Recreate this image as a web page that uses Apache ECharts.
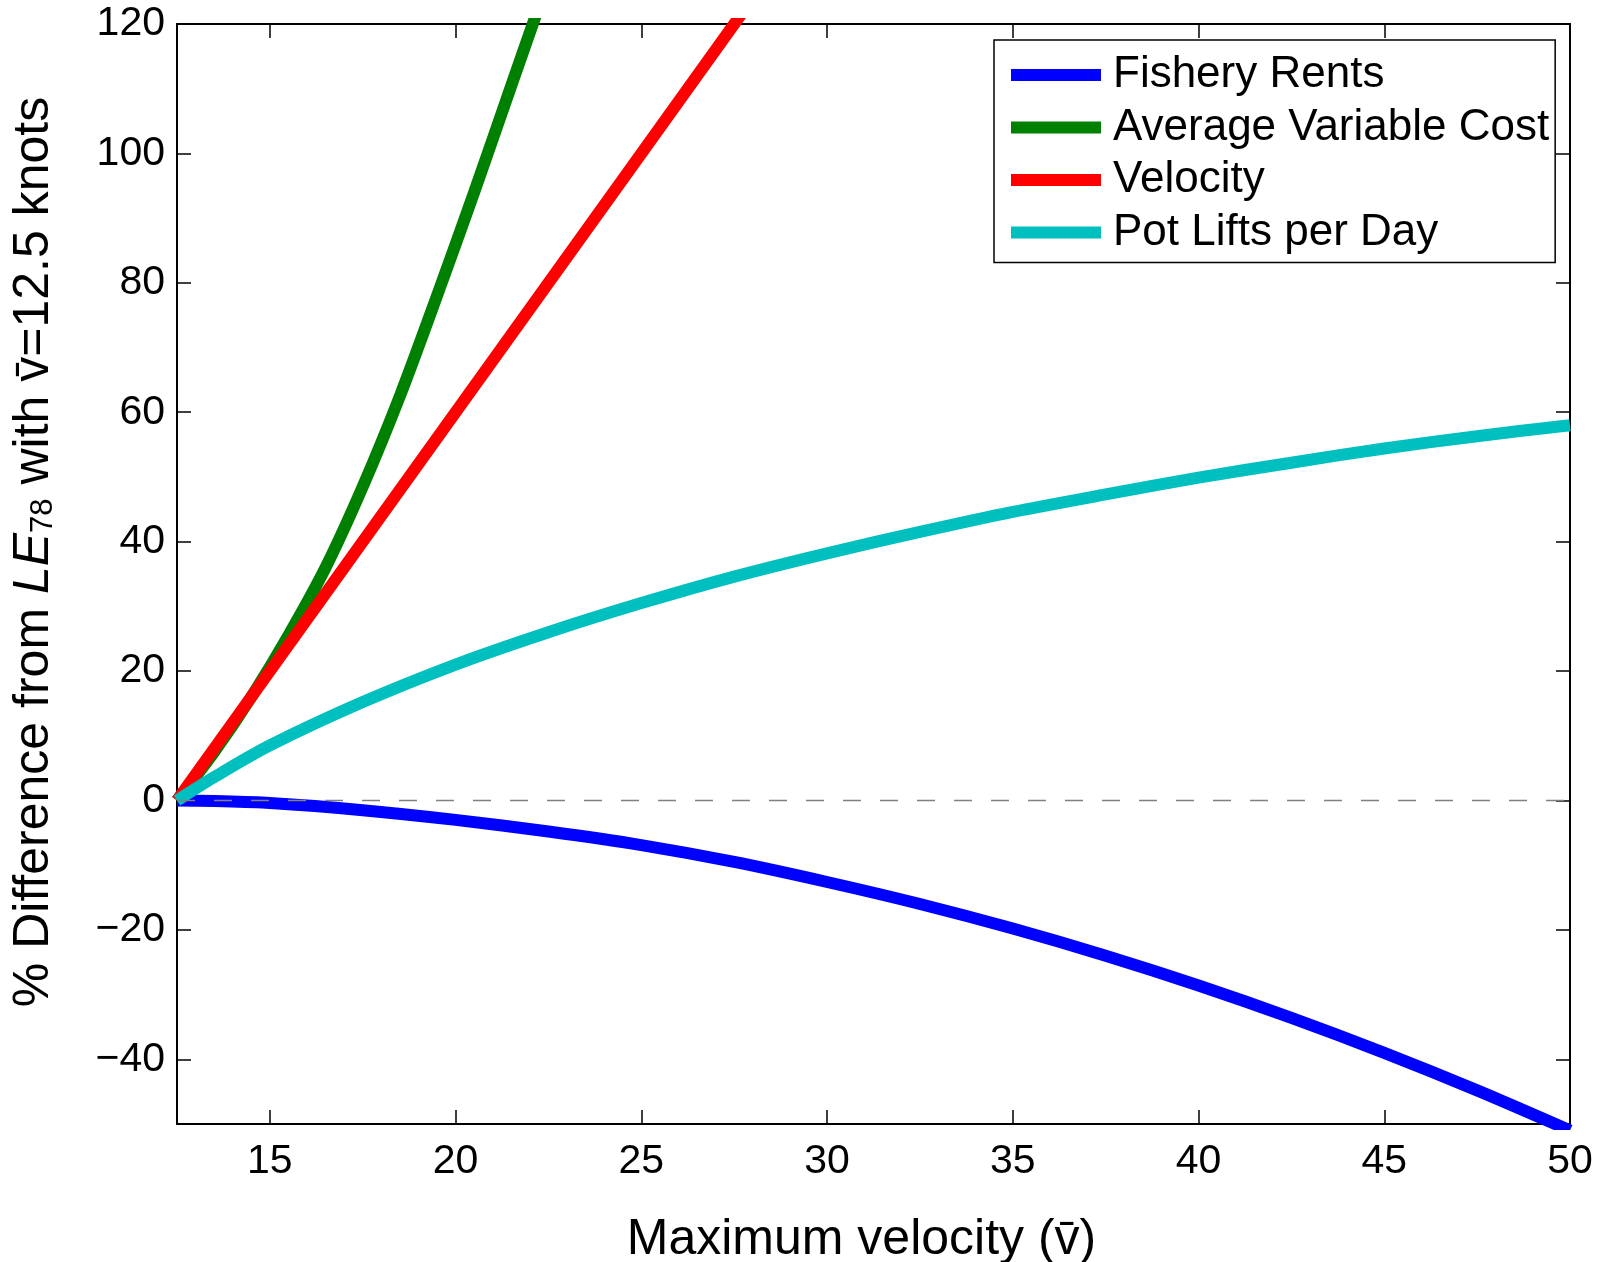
<!DOCTYPE html>
<html>
<head>
<meta charset="utf-8">
<title>% Difference from LE78 vs maximum velocity</title>
<script src="https://cdn.jsdelivr.net/npm/echarts@6/dist/echarts.min.js"></script>
<style>
  html, body { margin: 0; padding: 0; background: #fff; }
  #chart { width: 1602px; height: 1262px; }
</style>
</head>
<body>
<div id="chart"></div>
<script>
// Maximum velocity (knots) and % difference from the 12.5-knot baseline
const rentsX = [12.5, 13.5, 15, 17.5, 20, 22.5, 25, 27.5, 30, 32.5, 35, 37.5, 40, 42.5, 45, 47.5, 50];
const fisheryRents = [0, -0.1, -0.4, -1.5, -3.0, -4.8, -6.9, -9.5, -12.6, -16.0, -19.8, -24.0, -28.6, -33.6, -39.0, -44.8, -51.0];

const avcX = [12.5, 13.5, 14.5, 15.5, 16.5, 17.5, 18.5, 19.5, 20.5, 21.5, 22.2];
const avgVariableCost = [0, 7.5, 16, 25.5, 36, 48.5, 62.5, 78, 94, 110.5, 122];

const velocityX = [12.5, 15, 20, 25, 28];
const velocity = [0, 20, 60, 100, 124];

const liftsX = [12.5, 13.5, 15, 17.5, 20, 22.5, 25, 27.5, 30, 32.5, 35, 37.5, 40, 42.5, 45, 47.5, 50];
const potLifts = [0, 3.6, 8.5, 15.2, 21, 26, 30.5, 34.6, 38.2, 41.5, 44.6, 47.3, 49.9, 52.2, 54.4, 56.3, 58.0];

const xTicks = [15, 20, 25, 30, 35, 40, 45, 50];
const yTicks = [-40, -20, 0, 20, 40, 60, 80, 100, 120];
const xRange = [12.5, 50];
const yRange = [-50, 120];

const FONT = '"Liberation Sans", Helvetica, Arial, sans-serif';

function pairs(xs, ys) { return xs.map((x, i) => [x, ys[i]]); }

const tickStyle = { show: true, inside: true, length: 14, lineStyle: { color: '#000', width: 1.5 } };

function xAxisDef(pos, labels) {
  return {
    type: 'value', position: pos, min: xRange[0], max: xRange[1],
    axisLine: { show: true, onZero: false, lineStyle: { color: '#000', width: 2 } },
    axisTick: Object.assign({}, tickStyle, { customValues: xTicks }),
    axisLabel: labels ? { show: true, customValues: xTicks, fontSize: 41, fontFamily: FONT, color: '#000', margin: 17 } : { show: false },
    splitLine: { show: false }
  };
}
function yAxisDef(pos, labels) {
  return {
    type: 'value', position: pos, min: yRange[0], max: yRange[1],
    axisLine: { show: true, onZero: false, lineStyle: { color: '#000', width: 2 } },
    axisTick: Object.assign({}, tickStyle, { customValues: yTicks }),
    axisLabel: labels ? {
      show: true, customValues: yTicks, fontSize: 41, fontFamily: FONT, color: '#000', margin: 12,
      formatter: v => (v < 0 ? '\u2212' + Math.abs(v) : String(v))
    } : { show: false },
    splitLine: { show: false }
  };
}

const xMain = xAxisDef('bottom', true);
xMain.name = 'Maximum velocity (v\u0304)';
xMain.nameLocation = 'middle';
xMain.nameGap = 91;
xMain.nameTextStyle = { fontSize: 50, fontFamily: FONT, color: '#000', padding: [0, 24, 0, 0] };

const yMain = yAxisDef('left', true);
yMain.name = '% Difference from {it|LE}{sub|78} with v\u0304=12.5 knots';
yMain.nameLocation = 'middle';
yMain.nameGap = 118;
yMain.nameTextStyle = {
  fontSize: 50, fontFamily: FONT, color: '#000', padding: [0, 0, 0, 44],
  rich: {
    it: { fontSize: 50, fontStyle: 'italic', fontFamily: FONT, color: '#000' },
    sub: { fontSize: 31, fontFamily: FONT, color: '#000', verticalAlign: 'bottom' }
  }
};

function curve(name, color, xs, ys, smooth) {
  return {
    name, type: 'line', xAxisIndex: 0, yAxisIndex: 0,
    data: pairs(xs, ys), showSymbol: false, symbol: 'none',
    smooth: smooth, clip: true,
    lineStyle: { color, width: 12, cap: 'butt', join: 'round' },
    itemStyle: { color },
    emphasis: { disabled: true }, silent: true
  };
}

const option = {
  backgroundColor: '#fff',
  animation: false,
  grid: { left: 177, top: 24, right: 32, bottom: 138, containLabel: false, outerBoundsMode: 'none' },
  xAxis: [xMain, xAxisDef('top', false)],
  yAxis: [yMain, yAxisDef('right', false)],
  legend: {
    orient: 'vertical', left: 994, top: 40,
    padding: [13, 6, 8, 17],
    itemWidth: 90, itemHeight: 12, itemGap: 8.5,
    icon: 'rect', selectedMode: false,
    backgroundColor: '#fff', borderColor: '#000', borderWidth: 1.5,
    textStyle: { fontSize: 44, fontFamily: FONT, color: '#000', padding: [0, 0, 0, 7] },
    data: ['Fishery Rents', 'Average Variable Cost', 'Velocity', 'Pot Lifts per Day']
  },
  series: [
    curve('Fishery Rents', '#0000ff', rentsX, fisheryRents, 0.3),
    curve('Average Variable Cost', '#008000', avcX, avgVariableCost, 0.3),
    curve('Velocity', '#ff0000', velocityX, velocity, false),
    curve('Pot Lifts per Day', '#00bfbf', liftsX, potLifts, 0.3),
    {
      name: 'zero', type: 'line', xAxisIndex: 0, yAxisIndex: 0,
      data: [[xRange[0], 0], [xRange[1], 0]], symbol: 'none', silent: true,
      lineStyle: { color: '#808080', width: 1.5, type: [18, 19] }
    }
  ]
};

const chart = echarts.init(document.getElementById('chart'), null, { renderer: 'canvas' });
chart.setOption(option);
</script>
</body>
</html>
